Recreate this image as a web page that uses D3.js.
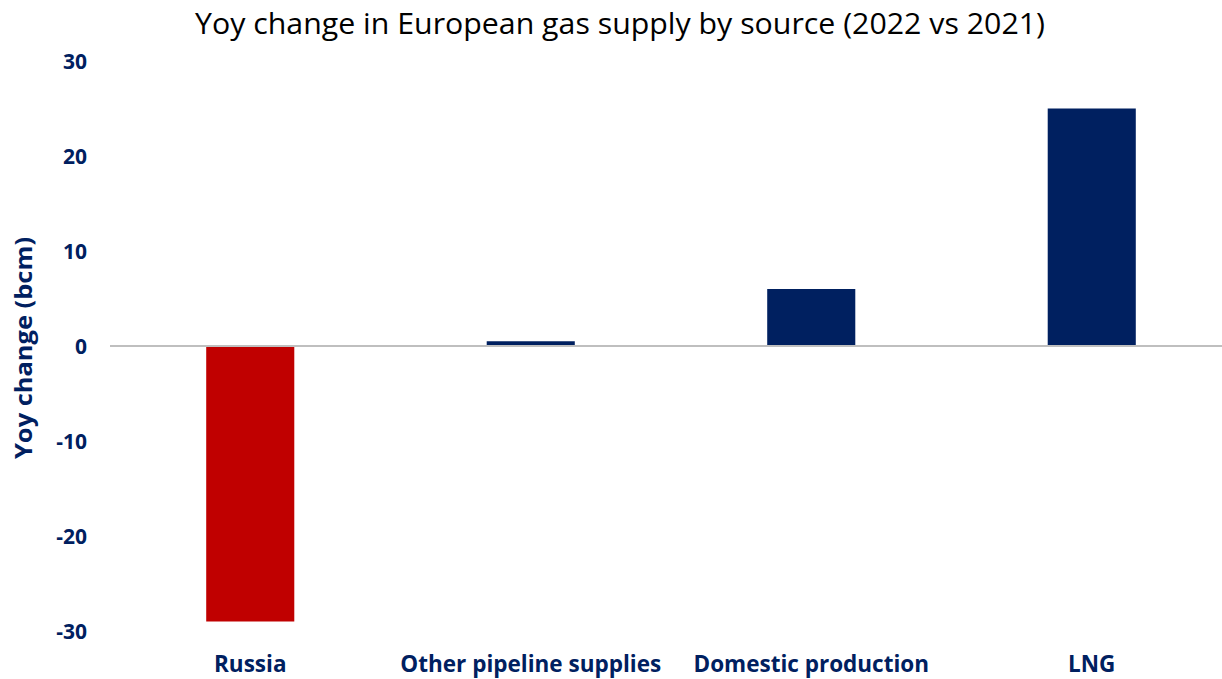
<!DOCTYPE html>
<html>
<head>
<meta charset="utf-8">
<script src="https://cdn.jsdelivr.net/npm/d3@7"></script>
<style>
  html, body { margin: 0; padding: 0; background: #fff; }
  svg { display: block; }
</style>
</head>
<body>
<svg id="chart" width="1222" height="679"></svg>
<script>
const categories = ["Russia", "Other pipeline supplies", "Domestic production", "LNG"];
const values = [-29, 0.5, 6, 25];
const barColors = ["#C00000", "#002060", "#002060", "#002060"];
const yTicks = [-30, -20, -10, 0, 10, 20, 30];
const titleText = "Yoy change in European gas supply by source (2022 vs 2021)";
const yAxisLabel = "Yoy change (bcm)";

const svg = d3.select("#chart");
const font = "'Open Sans', 'Noto Sans', sans-serif";
const navy = "#002060";

const y = d3.scaleLinear().domain([-30, 30]).range([631, 61]);
const x = d3.scaleBand().domain(categories).range([110, 1232])
  .paddingInner(0.686).paddingOuter(0.343);

// title
svg.append("text")
  .attr("x", 620).attr("y", 34)
  .attr("text-anchor", "middle")
  .attr("font-family", font).attr("font-size", 30)
  .attr("textLength", 850).attr("lengthAdjust", "spacingAndGlyphs")
  .attr("fill", "#000")
  .text(titleText);

// bars
svg.selectAll("rect.bar").data(values).enter().append("rect")
  .attr("class", "bar")
  .attr("x", (d, i) => x(categories[i]))
  .attr("width", x.bandwidth())
  .attr("y", d => y(Math.max(0, d)))
  .attr("height", d => Math.abs(y(d) - y(0)))
  .attr("fill", (d, i) => barColors[i]);

// zero line
svg.append("line")
  .attr("x1", 110).attr("x2", 1222)
  .attr("y1", y(0)).attr("y2", y(0))
  .attr("stroke", "#BFBFBF").attr("stroke-width", 2);

// y axis
const yAxis = d3.axisLeft(y).tickValues(yTicks).tickSize(0).tickPadding(0)
  .tickFormat(d => String(d));
const yg = svg.append("g").attr("transform", "translate(87,0)").call(yAxis);
yg.select(".domain").remove();
yg.selectAll("text")
  .attr("font-family", font).attr("font-size", 21).attr("font-weight", "bold")
  .attr("fill", navy).attr("dy", "0.35em");

// x axis labels
const xAxis = d3.axisBottom(x).tickSize(0).tickPadding(0);
const xg = svg.append("g").attr("transform", "translate(0,672)").call(xAxis);
xg.select(".domain").remove();
xg.selectAll("text")
  .attr("font-family", font).attr("font-size", 22.5).attr("font-weight", "bold")
  .attr("fill", navy).attr("dy", "0");

// y axis title
svg.append("text")
  .attr("transform", `translate(32,${y(0) + 2}) rotate(-90)`)
  .attr("text-anchor", "middle")
  .attr("font-family", font).attr("font-size", 24).attr("font-weight", "bold")
  .attr("textLength", 222).attr("lengthAdjust", "spacingAndGlyphs")
  .attr("fill", navy)
  .text(yAxisLabel);
</script>
</body>
</html>
